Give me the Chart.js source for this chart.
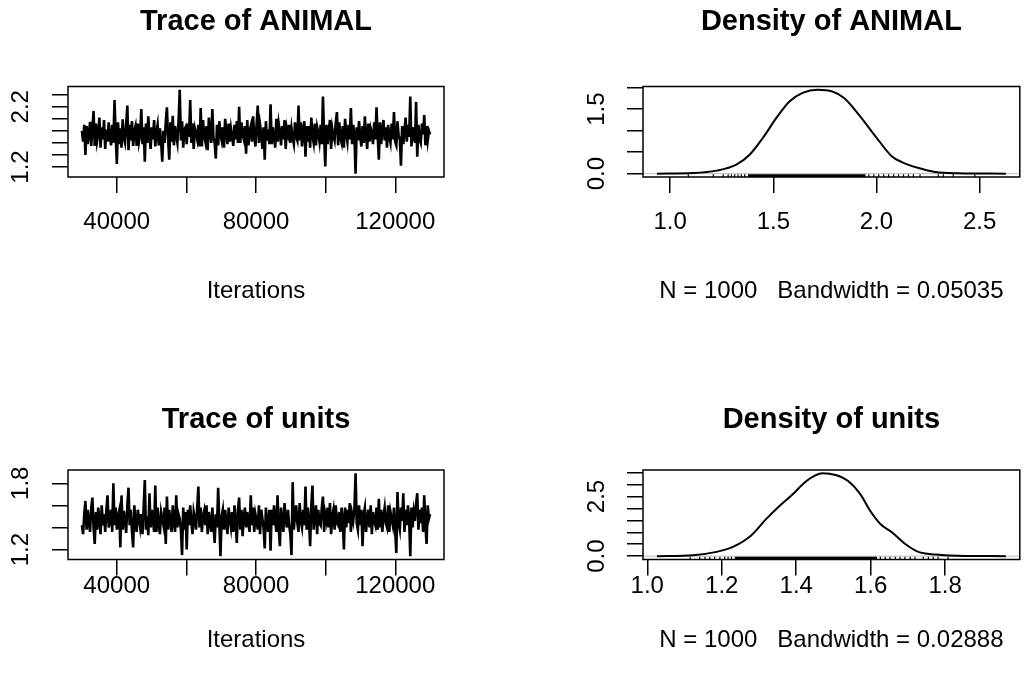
<!DOCTYPE html>
<html>
<head>
<meta charset="utf-8">
<script src="https://cdn.jsdelivr.net/npm/chart.js@4.4.1/dist/chart.umd.min.js"></script>
<style>
  html, body { margin: 0; padding: 0; background: #fff; }
  #wrap { position: relative; width: 1025px; height: 687px; }
  canvas { position: absolute; left: 0; top: 0; }
</style>
</head>
<body>
<div id="wrap">
  <canvas id="traceAnimal" width="1025" height="687"></canvas>
  <canvas id="densAnimal" width="1025" height="687"></canvas>
  <canvas id="traceUnits" width="1025" height="687"></canvas>
  <canvas id="densUnits" width="1025" height="687"></canvas>
</div>
<script>
// ---- data ----
const traceStart = 30000;
const traceEnd = 130000;
const traceXTicks = [40000, 60000, 80000, 100000, 120000];
const traceXLabels = ["40000", "", "80000", "", "120000"];

// ANIMAL chain (thinned reading of the trace)
const animalTrace = [
  1.80, 1.62, 1.90, 1.40, 1.88, 1.58, 1.76, 1.95, 1.55, 1.84,
  2.13, 1.55, 1.92, 1.62, 1.74, 2.02, 1.52, 1.86, 1.66, 1.98,
  1.50, 1.82, 1.62, 1.94, 1.70, 1.56, 1.90, 1.60, 2.31, 1.72,
  1.25, 1.94, 1.58, 1.84, 1.52, 1.99, 1.68, 1.60, 1.90, 2.22,
  1.48, 1.90, 1.64, 1.96, 1.55, 1.80, 1.88, 1.55, 1.92, 1.62,
  1.74, 2.16, 1.58, 1.86, 1.29, 1.92, 1.60, 2.04, 1.70, 1.50,
  1.86, 1.66, 1.98, 1.54, 1.78, 1.90, 1.56, 1.84, 1.62, 1.29,
  1.80, 1.60, 1.94, 2.19, 1.66, 1.32, 1.94, 1.62, 2.05, 1.56,
  1.88, 1.72, 1.60, 1.96, 2.48, 1.64, 1.96, 1.52, 1.82, 1.86,
  1.58, 1.92, 1.70, 2.31, 1.60, 1.92, 1.50, 1.84, 1.76, 1.66,
  1.90, 1.54, 2.18, 1.54, 1.98, 1.72, 1.62, 1.88, 1.48, 2.02,
  1.80, 1.60, 2.16, 1.68, 1.60, 1.34, 1.90, 1.56, 1.96, 1.74,
  1.64, 1.86, 1.52, 2.00, 1.78, 1.58, 1.92, 1.62, 1.84, 1.70,
  1.55, 1.90, 1.66, 1.96, 1.60, 2.20, 1.60, 1.94, 1.74, 1.66,
  1.88, 1.42, 1.98, 1.56, 1.80, 1.88, 1.62, 2.04, 1.72, 1.54,
  1.90, 2.22, 1.60, 1.90, 1.76, 1.50, 1.86, 1.32, 1.96, 1.64,
  1.82, 1.58, 2.24, 1.58, 1.86, 1.70, 1.52, 2.00, 1.62, 1.92,
  1.78, 1.56, 1.88, 1.66, 1.98, 1.50, 1.84, 1.74, 1.90, 1.60,
  1.84, 1.68, 1.58, 1.94, 1.70, 1.64, 2.22, 1.64, 1.94, 1.54,
  1.80, 1.96, 1.37, 1.88, 1.62, 1.88, 1.52, 2.02, 1.72, 1.60,
  1.92, 1.56, 1.86, 1.76, 1.62, 1.90, 1.58, 2.37, 1.70, 1.21,
  1.90, 1.58, 1.80, 1.98, 1.50, 1.84, 1.72, 1.64, 1.94, 2.11,
  1.56, 1.94, 1.68, 1.60, 1.88, 1.52, 2.00, 1.76, 1.62, 1.90,
  1.66, 2.18, 1.58, 1.90, 1.74, 1.09, 1.86, 1.64, 1.96, 1.70,
  1.54, 1.88, 1.60, 2.04, 1.72, 1.50, 1.92, 1.62, 1.84, 1.76,
  1.58, 1.94, 1.66, 2.19, 1.72, 1.32, 1.94, 1.58, 1.82, 1.98,
  1.64, 1.86, 1.52, 1.90, 1.70, 1.60, 1.92, 1.66, 2.11, 1.62,
  1.56, 1.96, 1.72, 1.66, 1.22, 1.88, 1.58, 1.80, 2.02, 1.62,
  1.90, 1.70, 2.37, 1.54, 1.86, 1.72, 1.60, 2.28, 1.37, 1.90,
  1.66, 1.60, 1.92, 1.74, 2.06, 1.56, 1.88, 1.64, 1.80, 1.74
];
const animalTraceYTicks = [1.2, 1.4, 1.6, 1.8, 2.0, 2.2, 2.4];
const animalTraceYLabels = ["1.2", "", "", "", "", "2.2", ""];

// units chain
const unitsTrace = [
  1.42, 1.34, 1.52, 1.64, 1.38, 1.56, 1.44, 1.36, 1.58, 1.67,
  1.40, 1.25, 1.54, 1.38, 1.58, 1.46, 1.34, 1.60, 1.42, 1.52,
  1.36, 1.56, 1.69, 1.40, 1.48, 1.56, 1.36, 1.80, 1.42, 1.58,
  1.38, 1.50, 1.55, 1.22, 1.69, 1.38, 1.55, 1.46, 1.35, 1.60,
  1.76, 1.42, 1.56, 1.36, 1.22, 1.60, 1.44, 1.36, 1.56, 1.48,
  1.40, 1.52, 1.34, 1.58, 1.83, 1.38, 1.50, 1.33, 1.71, 1.40,
  1.56, 1.46, 1.36, 1.78, 1.36, 1.58, 1.44, 1.34, 1.54, 1.48,
  1.42, 1.58, 1.25, 1.68, 1.38, 1.56, 1.46, 1.36, 1.60, 1.44,
  1.36, 1.69, 1.40, 1.52, 1.48, 1.38, 1.15, 1.58, 1.38, 1.54,
  1.20, 1.56, 1.42, 1.60, 1.44, 1.34, 1.54, 1.48, 1.38, 1.58,
  1.77, 1.40, 1.58, 1.36, 1.50, 1.55, 1.42, 1.60, 1.34, 1.54,
  1.46, 1.36, 1.58, 1.42, 1.26, 1.52, 1.40, 1.76, 1.44, 1.14,
  1.50, 1.56, 1.38, 1.56, 1.44, 1.34, 1.58, 1.48, 1.40, 1.54,
  1.36, 1.60, 1.46, 1.26, 1.56, 1.67, 1.38, 1.56, 1.32, 1.50,
  1.58, 1.40, 1.54, 1.44, 1.36, 1.69, 1.42, 1.58, 1.36, 1.52,
  1.46, 1.38, 1.60, 1.34, 1.56, 1.48, 1.40, 1.21, 1.58, 1.44,
  1.36, 1.56, 1.19, 1.56, 1.42, 1.60, 1.46, 1.36, 1.69, 1.40,
  1.23, 1.58, 1.44, 1.36, 1.62, 1.48, 1.40, 1.56, 1.42, 1.34,
  1.15, 1.81, 1.38, 1.52, 1.60, 1.44, 1.36, 1.62, 1.46, 1.40,
  1.56, 1.42, 1.77, 1.38, 1.58, 1.46, 1.23, 1.60, 1.78, 1.38,
  1.50, 1.60, 1.34, 1.56, 1.44, 1.42, 1.58, 1.68, 1.36, 1.52,
  1.46, 1.58, 1.40, 1.62, 1.34, 1.50, 1.56, 1.38, 1.60, 1.44,
  1.42, 1.54, 1.36, 1.58, 1.48, 1.20, 1.58, 1.40, 1.56, 1.44,
  1.62, 1.36, 1.52, 1.46, 1.56, 1.89, 1.44, 1.38, 1.60, 1.42,
  1.56, 1.23, 1.52, 1.58, 1.36, 1.48, 1.56, 1.40, 1.60, 1.34,
  1.54, 1.46, 1.42, 1.58, 1.38, 1.66, 1.40, 1.56, 1.36, 1.50,
  1.58, 1.44, 1.40, 1.60, 1.36, 1.54, 1.48, 1.42, 1.58, 1.38,
  1.17, 1.72, 1.44, 1.38, 1.58, 1.46, 1.71, 1.36, 1.56, 1.42,
  1.60, 1.48, 1.14, 1.58, 1.40, 1.54, 1.46, 1.62, 1.71, 1.38,
  1.56, 1.44, 1.58, 1.36, 1.69, 1.42, 1.25, 1.60, 1.48, 1.52
];
const unitsTraceYTicks = [1.2, 1.4, 1.6, 1.8];
const unitsTraceYLabels = ["1.2", "", "", "1.8"];

// ANIMAL density
const animalDensX = [0.936, 1.112, 1.225, 1.321, 1.385, 1.449, 1.514, 1.578, 1.642, 1.714,
                     1.786, 1.843, 1.915, 1.995, 2.075, 2.123, 2.204, 2.284, 2.396, 2.627];
const animalDensY = [0, 0.015, 0.07, 0.21, 0.44, 0.83, 1.29, 1.68, 1.88, 1.95,
                     1.91, 1.76, 1.37, 0.87, 0.40, 0.27, 0.13, 0.04, 0.01, 0];
const animalRug = [1.088, 1.209, 1.257, 1.281, 1.297, 1.313, 1.329, 1.345, 1.361,
                   1.963, 1.987, 2.011, 2.035, 2.059, 2.083, 2.107, 2.131, 2.155, 2.179, 2.211,
                   2.300, 2.324, 2.372, 2.477];
const animalRugBand = [1.377, 1.947];
const animalDensXTicks = [1.0, 1.5, 2.0, 2.5];
const animalDensXLabels = ["1.0", "1.5", "2.0", "2.5"];
const animalDensYTicks = [0, 0.5, 1.0, 1.5, 2.0];
const animalDensYLabels = ["0.0", "", "", "1.5", ""];

// units density
const unitsDensX = [1.026, 1.123, 1.186, 1.230, 1.279, 1.319, 1.355, 1.390, 1.426, 1.470, 1.506,
                    1.541, 1.573, 1.599, 1.626, 1.657, 1.692, 1.728, 1.773, 1.835, 1.963];
const unitsDensY = [0, 0.04, 0.18, 0.39, 0.87, 1.55, 2.10, 2.58, 3.13, 3.47, 3.40,
                    3.13, 2.58, 1.89, 1.35, 1.00, 0.52, 0.18, 0.07, 0.02, 0];
const unitsRug = [1.115, 1.141, 1.155, 1.168, 1.181, 1.195, 1.208, 1.217, 1.226,
                  1.626, 1.639, 1.652, 1.666, 1.679, 1.692, 1.706, 1.719, 1.741, 1.755,
                  1.768, 1.781, 1.808];
const unitsRugBand = [1.235, 1.617];
const unitsDensXTicks = [1.0, 1.2, 1.4, 1.6, 1.8];
const unitsDensXLabels = ["1.0", "1.2", "1.4", "1.6", "1.8"];
const unitsDensYTicks = [0, 0.5, 1.0, 1.5, 2.0, 2.5, 3.0, 3.5];
const unitsDensYLabels = ["0.0", "", "", "", "", "2.5", "", ""];

// ---- drawing ----
const FONT = '"Liberation Sans", Arial, Helvetica, sans-serif';
const TICK_LEN = 16;
const AXIS_PX = 24;
const TITLE_PX = 29;

// R-style 4% range extension
function extend(lo, hi) {
  const d = (hi - lo) * 0.04;
  return [lo - d, hi + d];
}

function makePanel(id, box, text, xr, yr, xTicks, xLabels, yTicks, yLabels, datasets) {
  const decor = {
    id: "rDecor",
    afterDraw(chart) {
      const ctx = chart.ctx;
      const a = chart.chartArea;
      const xs = chart.scales.x;
      const ys = chart.scales.y;
      ctx.save();
      ctx.strokeStyle = "#000";
      ctx.lineWidth = 1.5;
      ctx.strokeRect(a.left, a.top, a.right - a.left, a.bottom - a.top);

      ctx.fillStyle = "#000";
      ctx.textAlign = "center";
      ctx.textBaseline = "middle";
      ctx.font = "bold " + TITLE_PX + "px " + FONT;
      const cx = (a.left + a.right) / 2;
      ctx.fillText(text.title, cx, text.titleY);

      ctx.font = AXIS_PX + "px " + FONT;
      ctx.fillText(text.xlab, cx, text.xlabY);
      xTicks.forEach((v, i) => {
        if (xLabels[i]) ctx.fillText(xLabels[i], xs.getPixelForValue(v), text.tickY);
      });
      yTicks.forEach((v, i) => {
        if (!yLabels[i]) return;
        ctx.save();
        ctx.translate(text.yLabX, ys.getPixelForValue(v));
        ctx.rotate(-Math.PI / 2);
        ctx.fillText(yLabels[i], 0, 0);
        ctx.restore();
      });
      ctx.restore();
    }
  };

  const axis = (min, max, ticks, fitKey) => ({
    type: "linear",
    min, max,
    afterBuildTicks: s => { s.ticks = ticks.map(v => ({ value: v })); },
    afterFit: s => { s[fitKey] = TICK_LEN; },
    ticks: { display: false },
    border: { display: false },
    grid: {
      drawOnChartArea: false,
      drawTicks: true,
      tickLength: TICK_LEN,
      color: "#000",
      lineWidth: 1.5
    }
  });

  new Chart(document.getElementById(id), {
    type: "line",
    data: { datasets },
    options: {
      responsive: false,
      animation: false,
      events: [],
      layout: {
        padding: {
          left: box.l - TICK_LEN,
          top: box.t,
          right: 1025 - box.r,
          bottom: 687 - box.b - TICK_LEN
        }
      },
      plugins: { legend: { display: false }, tooltip: { enabled: false } },
      scales: {
        x: axis(xr[0], xr[1], xTicks, "height"),
        y: axis(yr[0], yr[1], yTicks, "width")
      }
    },
    plugins: [decor]
  });
}

function traceData(vals) {
  const step = (traceEnd - traceStart) / (vals.length - 1);
  return vals.map((v, i) => ({ x: traceStart + i * step, y: v }));
}

function tracePanel(id, box, text, vals, yTicks, yLabels) {
  const xr = extend(traceStart, traceEnd);
  const yr = extend(Math.min(...vals), Math.max(...vals));
  makePanel(id, box, text, xr, yr, traceXTicks, traceXLabels, yTicks, yLabels, [{
    data: traceData(vals),
    borderColor: "#000",
    borderWidth: 2.6,
    pointRadius: 0,
    tension: 0
  }]);
}

function densPanel(id, box, text, dx, dy, rug, band, xTicks, xLabels, yTicks, yLabels) {
  const xr = extend(dx[0], dx[dx.length - 1]);
  const yr = extend(0, Math.max(...dy));
  const rugY = yr[0] + (yr[1] - yr[0]) * 0.015;
  makePanel(id, box, text, xr, yr, xTicks, xLabels, yTicks, yLabels, [
    {
      data: dx.map((x, i) => ({ x, y: dy[i] })),
      borderColor: "#000",
      borderWidth: 2,
      pointRadius: 0,
      cubicInterpolationMode: "monotone"
    },
    {
      data: band.map(x => ({ x, y: rugY })),
      borderColor: "#000",
      borderWidth: 3,
      pointRadius: 0
    },
    {
      data: rug.map(x => ({ x, y: rugY })),
      showLine: false,
      pointStyle: "line",
      rotation: 90,
      pointRadius: 1.5,
      borderWidth: 1.2,
      borderColor: "#000"
    },
    {
      data: xr.map(x => ({ x, y: 0 })),
      borderColor: "#bdbdbd",
      borderWidth: 1,
      pointRadius: 0
    }
  ]);
}

tracePanel("traceAnimal",
  { l: 68, t: 86.5, r: 444, b: 177 },
  { title: "Trace of ANIMAL", titleY: 22, xlab: "Iterations", xlabY: 291, tickY: 222, yLabX: 21 },
  animalTrace, animalTraceYTicks, animalTraceYLabels);

tracePanel("traceUnits",
  { l: 68, t: 470, r: 444, b: 559.5 },
  { title: "Trace of units", titleY: 420, xlab: "Iterations", xlabY: 640, tickY: 586, yLabX: 21 },
  unitsTrace, unitsTraceYTicks, unitsTraceYLabels);

densPanel("densAnimal",
  { l: 643, t: 86.5, r: 1021, b: 177 },
  { title: "Density of ANIMAL", titleY: 22, xlab: "N = 1000   Bandwidth = 0.05035", xlabY: 291, tickY: 222, yLabX: 597 },
  animalDensX, animalDensY, animalRug, animalRugBand,
  animalDensXTicks, animalDensXLabels, animalDensYTicks, animalDensYLabels);

densPanel("densUnits",
  { l: 643, t: 470, r: 1021, b: 559.5 },
  { title: "Density of units", titleY: 420, xlab: "N = 1000   Bandwidth = 0.02888", xlabY: 640, tickY: 586, yLabX: 597 },
  unitsDensX, unitsDensY, unitsRug, unitsRugBand,
  unitsDensXTicks, unitsDensXLabels, unitsDensYTicks, unitsDensYLabels);
</script>
</body>
</html>
